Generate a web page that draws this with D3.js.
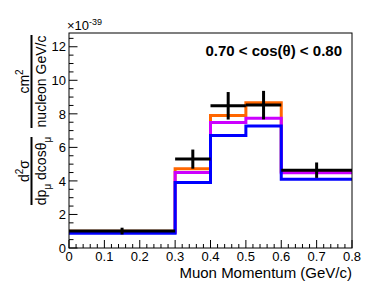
<!DOCTYPE html>
<html><head><meta charset="utf-8">
<script src="https://cdn.jsdelivr.net/npm/d3@7"></script>
<style>html,body{margin:0;padding:0;background:#fff;}svg{display:block;font-family:"Liberation Sans",Arial,sans-serif;}</style>
</head><body>
<script>
const binEdges = [0, 0.3, 0.4, 0.5, 0.6, 0.8];
const dataValues = [1.01, 5.30, 8.48, 8.52, 4.64];
const dataErrors = [0.2, 0.57, 0.82, 0.85, 0.46];
const orangeValues = [1.0, 4.72, 7.90, 8.66, 4.58];
const magentaValues = [0.92, 4.50, 7.48, 7.74, 4.48];
const blueValues = [0.88, 3.90, 6.71, 7.28, 4.10];
const xTicks = [0, 0.1, 0.2, 0.3, 0.4, 0.5, 0.6, 0.7, 0.8];
const yTicks = [0, 2, 4, 6, 8, 10, 12];
const headerText = "0.70 < cos(θ) < 0.80";
const xTitle = "Muon Momentum (GeV/c)";

const W = 387, H = 283;
const L = 69, R = 352, T = 33, B = 248;
const svg = d3.select("body").append("svg").attr("width", W).attr("height", H);
const x = d3.scaleLinear().domain([0, 0.8]).range([L, R]);
const y = d3.scaleLinear().domain([0, 12.82]).range([B, T]);

// histograms
function stepPath(vals) {
  const p = d3.path();
  vals.forEach((v, i) => {
    if (i === 0) p.moveTo(x(binEdges[0]), y(v));
    else p.lineTo(x(binEdges[i]), y(v));
    p.lineTo(x(binEdges[i + 1]), y(v));
  });
  return p.toString();
}
const hists = [
  {vals: orangeValues, color: "#ff6600"},
  {vals: magentaValues, color: "#cc00ff"},
  {vals: blueValues, color: "#0000ff"}
];
hists.forEach(h => {
  svg.append("path").attr("d", stepPath(h.vals)).attr("fill", "none")
    .attr("stroke", h.color).attr("stroke-width", 3).attr("stroke-linejoin", "miter").attr("stroke-linecap", "butt");
});

// data points
const dg = svg.append("g").attr("stroke", "#000").attr("stroke-width", 3);
dataValues.forEach((v, i) => {
  const xc = (binEdges[i] + binEdges[i + 1]) / 2;
  dg.append("line").attr("x1", x(binEdges[i])).attr("x2", x(binEdges[i + 1])).attr("y1", y(v)).attr("y2", y(v));
  dg.append("line").attr("x1", x(xc)).attr("x2", x(xc)).attr("y1", y(v - dataErrors[i])).attr("y2", y(v + dataErrors[i]));
});

// frame
svg.append("rect").attr("x", L).attr("y", T).attr("width", R - L).attr("height", B - T)
  .attr("fill", "none").attr("stroke", "#000").attr("stroke-width", 1);

// ticks
const tg = svg.append("g").attr("stroke", "#000").attr("stroke-width", 1);
for (let k = 0; k <= 40; k++) {
  const v = k * 0.02;
  const len = (k % 5 === 0) ? 8 : 4;
  tg.append("line").attr("x1", x(v)).attr("x2", x(v)).attr("y1", B).attr("y2", B - len);
}
for (let k = 0; k <= 25; k++) {
  const v = k * 0.5;
  if (v > 12.82) break;
  const len = (k % 4 === 0) ? 8.5 : 4.5;
  tg.append("line").attr("x1", L).attr("x2", L + len).attr("y1", y(v)).attr("y2", y(v));
}

// tick labels
svg.append("g").selectAll("text").data(xTicks).join("text")
  .attr("x", d => x(d)).attr("y", 261).attr("text-anchor", "middle")
  .attr("font-size", 13).text(d => d === 0 ? "0" : d3.format(".1f")(d));
svg.append("g").selectAll("text").data(yTicks).join("text")
  .attr("x", 66).attr("y", d => y(d) + 4.7).attr("text-anchor", "end")
  .attr("font-size", 13).text(d => d);

// exponent
const ex = svg.append("text").attr("x", 67).attr("y", 30).attr("font-size", 13);
ex.append("tspan").text("×10");
ex.append("tspan").attr("dy", -5).attr("font-size", 9).text("-39");

// header
svg.append("text").attr("x", 342).attr("y", 56).attr("text-anchor", "end")
  .attr("font-size", 15).attr("font-weight", "bold").text(headerText);

// x title
svg.append("text").attr("x", 352).attr("y", 278).attr("text-anchor", "end")
  .attr("font-size", 15).text(xTitle);

// y title (rotated fractions)
function frac(cy, lineLen, numFn, denFn) {
  const g = svg.append("g").attr("transform", `translate(0,${cy}) rotate(-90)`);
  const n = g.append("text").attr("x", 0).attr("y", 28.5).attr("text-anchor", "middle").attr("font-size", 14);
  numFn(n);
  g.append("line").attr("x1", -lineLen / 2).attr("x2", lineLen / 2).attr("y1", 31.5).attr("y2", 31.5)
    .attr("stroke", "#000").attr("stroke-width", 2);
  const d = g.append("text").attr("x", 0).attr("y", 45.5).attr("text-anchor", "middle").attr("font-size", 14);
  denFn(d);
}
frac(171, 68, t => {
  t.append("tspan").text("d");
  t.append("tspan").attr("dy", -6).attr("font-size", 10).text("2");
  t.append("tspan").attr("dy", 6).text("σ");
}, t => {
  t.append("tspan").text("dp");
  t.append("tspan").attr("dy", 5).attr("font-size", 10).text("μ");
  t.append("tspan").attr("dy", -5).text(" dcosθ");
  t.append("tspan").attr("dy", 5).attr("font-size", 10).text("μ");
});
frac(81.5, 93, t => {
  t.append("tspan").text("cm");
  t.append("tspan").attr("dy", -6).attr("font-size", 10).text("2");
}, t => {
  t.append("tspan").text("nucleon GeV/c");
});
</script>
</body></html>
